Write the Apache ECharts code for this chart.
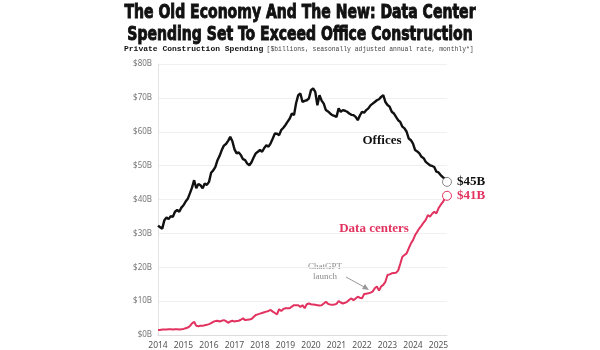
<!DOCTYPE html>
<html>
<head>
<meta charset="utf-8">
<script src="https://cdn.jsdelivr.net/npm/echarts@6/dist/echarts.min.js"></script>
<style>
  html, body { margin: 0; padding: 0; background: #fff; }
  #chart { width: 600px; height: 350px; }
</style>
</head>
<body>
<div id="chart"></div>
<script>
// monthly, Jan 2014 .. May 2025
var months = [];
for (var y = 2014; y <= 2025; y++) {
  for (var m = 1; m <= 12; m++) {
    if (y === 2025 && m > 5) break;
    months.push(y + '-' + (m < 10 ? '0' + m : m));
  }
}

var offices = [
  32.3, 31.8, 31.4, 33.9, 34.7, 34.2, 35.1, 34.9, 36.4, 36.9, 36.4, 37.6,
  38.3, 39.4, 40.2, 41.8, 43.5, 45.7, 43.3, 44.6, 44.2, 43.3, 44.7, 44.3,
  45.2, 47.9, 48.6, 49.6, 51.6, 52.9, 54.6, 55.9, 56.4, 57.3, 58.5, 57.2,
  54.8, 53.6, 53.9, 53.1, 51.9, 51.6, 50.6, 50.1, 51.0, 52.4, 53.6, 54.1,
  54.6, 54.1, 55.2, 56.0, 55.6, 56.6, 58.0, 59.5, 59.4, 59.0, 60.5, 61.2,
  62.0, 63.0, 63.9, 65.4, 64.9, 68.5, 70.8, 71.3, 68.8, 69.1, 69.3, 69.8,
  72.3, 72.8, 71.8, 67.8, 70.8, 69.2, 68.3, 66.4, 66.0, 65.4, 64.9, 64.7,
  64.4, 66.9, 65.9, 66.4, 66.2, 65.9, 65.4, 65.0, 64.9, 64.4, 63.4, 64.8,
  65.9, 65.6, 66.4, 66.9, 67.8, 68.3, 68.8, 69.3, 69.6, 70.3, 70.8, 68.8,
  67.9, 67.4, 65.9, 65.4, 64.4, 63.4, 62.9, 61.5, 61.0, 60.0, 58.0, 57.5,
  56.5, 54.6, 54.2, 53.6, 52.6, 52.2, 51.1, 50.6, 50.1, 49.9, 49.6, 48.2,
  48.0, 47.2, 46.6, 46.2, 45.2
];

var dataCenters = [
  1.5, 1.5, 1.6, 1.6, 1.6, 1.7, 1.7, 1.6, 1.7, 1.7, 1.6, 1.7,
  1.8, 2.0, 2.2, 2.6, 3.4, 3.9, 2.7, 2.6, 2.7, 2.7, 2.9, 3.0,
  3.2, 3.5, 3.9, 4.1, 4.2, 4.0, 4.2, 4.4, 4.1, 3.6, 4.0, 4.2,
  4.0, 4.1, 4.2, 4.5, 4.9, 4.4, 4.5, 4.6, 4.7, 5.3, 5.9, 6.1,
  6.3, 6.5, 6.7, 6.9, 7.1, 7.4, 6.9, 6.5, 6.1, 7.6, 7.1, 7.7,
  7.9, 7.9, 7.9, 8.4, 8.8, 8.8, 8.8, 8.3, 8.8, 7.9, 9.1, 9.3,
  9.1, 9.0, 8.9, 8.8, 8.7, 8.8, 9.3, 9.8, 9.2, 9.0, 8.9, 9.0,
  9.2, 10.0, 9.6, 9.3, 9.5, 9.8, 10.4, 10.8, 10.3, 10.8, 11.3, 11.0,
  10.8, 12.1, 12.2, 12.3, 12.5, 12.8, 13.8, 14.3, 13.1, 14.3, 14.8, 15.7,
  17.7, 17.9, 18.2, 18.3, 18.4, 19.0, 21.0, 23.1, 23.6, 24.1, 25.6, 27.0,
  28.0, 29.5, 30.5, 31.5, 32.3, 33.2, 34.0, 35.4, 34.9, 35.8, 36.4, 35.9,
  37.4, 38.4, 39.2, 40.3, 41.1
];

var yTicks = [0, 10, 20, 30, 40, 50, 60, 70, 80];

var PINK = '#e2325f';
var SERIF = "'Liberation Serif', 'DejaVu Serif', serif";
var HEAD = "'DejaVu Sans Condensed', 'Liberation Sans', sans-serif";

// only the last point gets a hollow circle and a value label
function withEndMarker(values, color, ring) {
  var last = values.length - 1;
  return values.map(function (v, i) {
    if (i !== last) return { value: v, symbol: 'none' };
    return {
      value: v,
      symbol: 'circle',
      symbolSize: 9,
      itemStyle: { color: '#fff', borderColor: ring, borderWidth: 1 },
      label: {
        show: true,
        position: 'right',
        distance: 5,
        formatter: '$' + Math.round(v) + 'B',
        color: color,
        fontFamily: SERIF,
        fontWeight: 'bold',
        fontSize: 13
      }
    };
  });
}

// squeezed heavy headline
function headline(text, yPos) {
  return {
    type: 'text',
    x: 300, y: yPos,
    scaleX: 0.8,
    style: {
      text: text,
      font: 'bold 19.5px ' + HEAD,
      fill: '#111',
      stroke: '#111',
      lineWidth: 0.9,
      align: 'center',
      verticalAlign: 'middle'
    }
  };
}

var chart = echarts.init(document.getElementById('chart'));
chart.setOption({
  animation: false,
  backgroundColor: '#fff',
  grid: { left: 158, right: 153, top: 64, bottom: 15, outerBoundsMode: 'none' },
  xAxis: {
    type: 'category',
    data: months,
    boundaryGap: false,
    axisLine: { lineStyle: { color: '#ddd' } },
    axisTick: { show: false },
    axisLabel: {
      interval: function (i, v) { return v.slice(5) === '01'; },
      formatter: function (v) { return v.slice(0, 4); },
      color: '#555',
      fontSize: 8.5,
      margin: 6,
      fontFamily: "'Noto Sans', sans-serif"
    },
    splitLine: { show: false }
  },
  yAxis: {
    type: 'value',
    min: yTicks[0],
    max: yTicks[yTicks.length - 1],
    interval: 10,
    axisLine: { show: true, lineStyle: { color: '#e4e4e4' } },
    axisTick: { show: false },
    axisLabel: {
      formatter: function (v) { return '$' + v + 'B'; },
      color: '#777',
      fontSize: 8,
      margin: 6,
      fontFamily: "'Noto Sans', sans-serif"
    },
    splitLine: { lineStyle: { color: '#f0f0f0' } }
  },
  series: [
    {
      name: 'Offices',
      type: 'line',
      data: withEndMarker(offices, '#111', '#888'),
      showSymbol: true,
      showAllSymbol: true,
      lineStyle: { color: '#111', width: 2.4 },
      itemStyle: { color: '#111' },
      z: 3
    },
    {
      name: 'Data centers',
      type: 'line',
      data: withEndMarker(dataCenters, PINK, PINK),
      showSymbol: true,
      showAllSymbol: true,
      lineStyle: { color: PINK, width: 2 },
      itemStyle: { color: PINK },
      z: 4
    }
  ],
  graphic: [
    headline('The Old Economy And The New: Data Center', 13),
    headline('Spending Set To Exceed Office Construction', 35),
    {
      type: 'text',
      x: 124, y: 49,
      style: {
        text: '{b|Private Construction Spending} {s|[$billions, seasonally adjusted annual rate, monthly*]}',
        verticalAlign: 'middle',
        rich: {
          b: { fontFamily: "'Liberation Mono', 'DejaVu Sans Mono', monospace", fontWeight: 'bold', fontSize: 8, fill: '#111' },
          s: { fontFamily: "'Liberation Mono', 'DejaVu Sans Mono', monospace", fontSize: 6.4, fill: '#444' }
        }
      }
    },
    {
      type: 'text',
      x: 382, y: 141,
      style: { text: 'Offices', font: 'bold 13px ' + SERIF, fill: '#111', align: 'center', verticalAlign: 'middle' }
    },
    {
      type: 'text',
      x: 374, y: 229,
      style: { text: 'Data centers', font: 'bold 13px ' + SERIF, fill: PINK, align: 'center', verticalAlign: 'middle' }
    },
    {
      type: 'text',
      x: 325, y: 272,
      style: { text: 'ChatGPT\nlaunch', font: '9px ' + SERIF, fill: '#8a8a8a', align: 'center', verticalAlign: 'middle', lineHeight: 10 }
    },
    {
      type: 'line',
      shape: { x1: 346, y1: 277, x2: 366, y2: 288 },
      style: { stroke: '#999', lineWidth: 1 }
    },
    {
      type: 'polygon',
      shape: { points: [[369, 290], [362, 289], [365, 284]] },
      style: { fill: '#999' }
    }
  ]
});
</script>
</body>
</html>
